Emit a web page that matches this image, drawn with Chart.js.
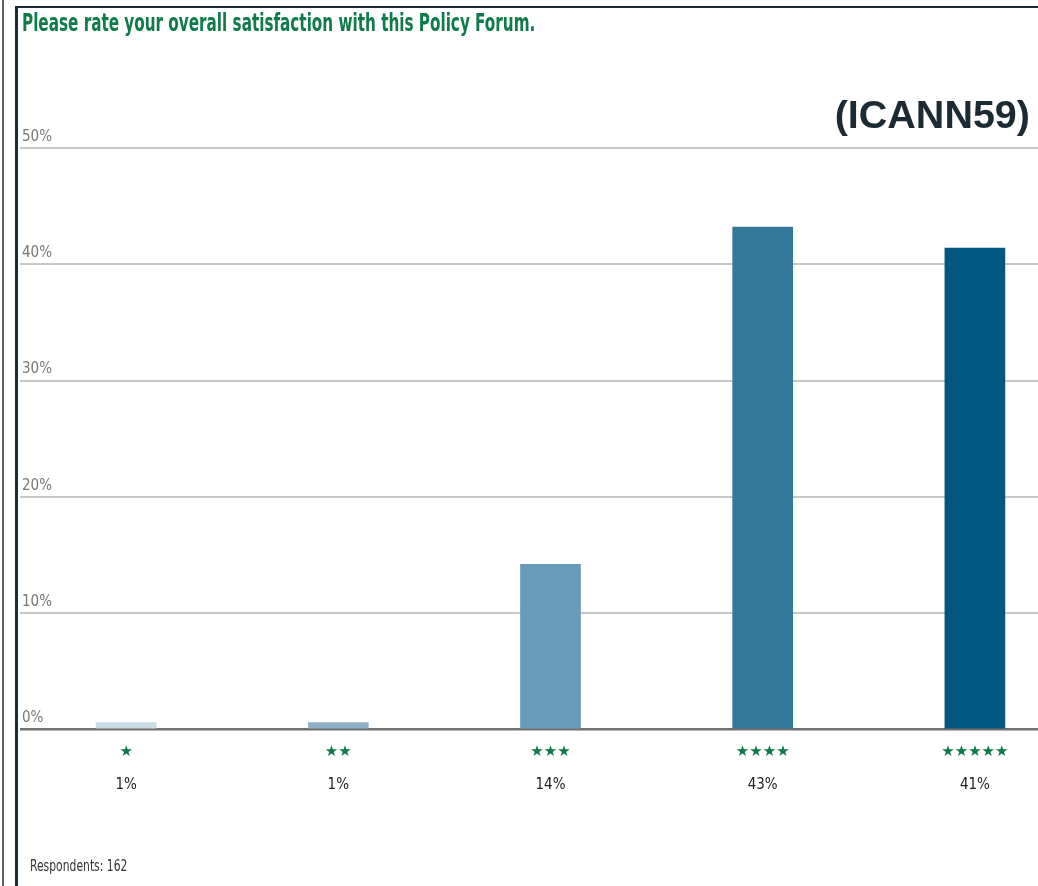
<!DOCTYPE html>
<html>
<head>
<meta charset="utf-8">
<script src="https://cdn.jsdelivr.net/npm/chart.js@4.4.1/dist/chart.umd.min.js"></script>
<style>
  html, body { margin: 0; padding: 0; background: #fff; overflow: hidden; }
  #page { position: relative; width: 1038px; height: 886px; overflow: hidden; }
  #chart { position: absolute; left: 0; top: 0; }
  .frame-left { position: absolute; left: 15px; top: 6px; width: 3px; height: 880px; background: #1b2a33; }
  .frame-top { position: absolute; left: 15px; top: 6px; width: 1023px; height: 2px; background: #1b2a33; }
  .frame-edge { position: absolute; left: 2px; top: 0; width: 2px; height: 886px; background: #55606a; }
  #title { position: absolute; left: 22px; top: 9px; font: bold 24px "DejaVu Sans Condensed", sans-serif; color: #0f7a4a; white-space: nowrap; transform: scaleX(0.705); transform-origin: left top; }
  #tag { position: absolute; right: 8px; top: 92px; font: bold 39.5px "Liberation Sans", Arial, sans-serif; color: #1b2a33; }
  #note { position: absolute; left: 30px; top: 857px; font: 15px "DejaVu Sans Condensed", sans-serif; color: #333; white-space: nowrap; transform: scaleX(0.8); transform-origin: left top; }
</style>
</head>
<body>
<div id="page">
  <canvas id="chart" width="1081" height="886"></canvas>
  <div class="frame-edge"></div>
  <div class="frame-left"></div>
  <div class="frame-top"></div>
  <div id="title">Please rate your overall satisfaction with this Policy Forum.</div>
  <div id="tag">(ICANN59)</div>
  <div id="note">Respondents: 162</div>
</div>
<script>
// rating categories and share of respondents (%)
const ratings = ['★', '★★', '★★★', '★★★★', '★★★★★'];
const percentLabels = ['1%', '1%', '14%', '43%', '41%'];
const shares = [0.6, 0.6, 14.2, 43.2, 41.4];
const yMax = 50;
const yStep = 10;

const barColors = ['#c8dce6', '#8fb0c6', '#689bba', '#337799', '#03567f'];
const narrow = '"DejaVu Sans Condensed", sans-serif';

new Chart(document.getElementById('chart'), {
    type: 'bar',
    data: {
        labels: ratings,
        datasets: [{
            data: shares,
            backgroundColor: barColors,
            borderWidth: 0,
            barThickness: 60
        }]
    },
    options: {
        responsive: false,
        animation: false,
        layout: { padding: { top: 148, left: 16, right: 0, bottom: 90 } },
        plugins: {
            legend: { display: false },
            tooltip: { enabled: false }
        },
        scales: {
            x: {
                grid: { display: false, drawTicks: false },
                border: { display: false },
                ticks: {
                    color: '#0f7a4a',
                    font: { size: 15, family: 'DejaVu Sans', lineHeight: 0.3 },
                    padding: 20
                }
            },
            x2: {
                type: 'category',
                position: 'bottom',
                labels: percentLabels,
                grid: { display: false, drawTicks: false },
                border: { display: false },
                ticks: {
                    color: '#222',
                    font: { size: 15, family: narrow },
                    padding: 2
                }
            },
            y: {
                min: 0,
                max: yMax,
                border: { display: false },
                grid: {
                    drawTicks: false,
                    color: (c) => c.tick && c.tick.value === 0 ? '#707070' : '#c8c8c8',
                    lineWidth: (c) => c.tick && c.tick.value === 0 ? 2.5 : 2
                },
                ticks: {
                    stepSize: yStep,
                    mirror: true,
                    padding: 2,
                    labelOffset: -11,
                    z: 1,
                    color: '#777',
                    font: { size: 15, family: narrow },
                    callback: (v) => v + '%'
                }
            }
        }
    }
});
</script>
</body>
</html>
